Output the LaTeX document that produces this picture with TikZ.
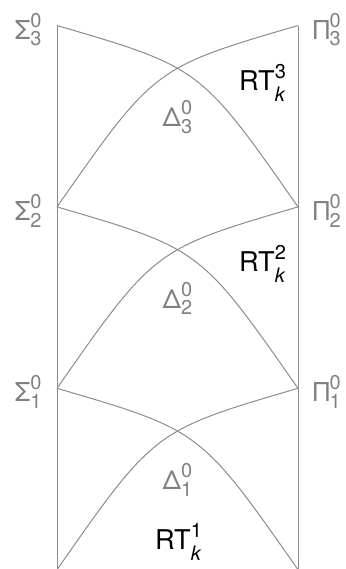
\documentclass[tikz,border=0pt]{standalone}
\usepackage{fontspec}
\setmainfont{TeX Gyre Heros}
\usetikzlibrary{positioning}

% base letter with a superscript and a subscript stacked on the left
\newcommand{\supsub}[4][3.4pt]{#2\rlap{\raisebox{6pt}{\fontsize{10}{12}\selectfont #3}}\raisebox{-#1}{\fontsize{10}{12}\selectfont #4}}

\begin{document}
\begin{tikzpicture}[
      x=0.5pt, y=-0.5pt,
      line/.style={draw=black!45, line width=0.5pt},
      lab/.style={text=black!50, font=\fontsize{13}{15}\selectfont, inner sep=0pt},
      rt/.style={text=black, font=\fontsize{13.6}{16}\selectfont, inner sep=0pt}
    ]
    \useasboundingbox (0,0) rectangle (345,569);
    % levels
    \foreach \n/\y in {3/25.5, 2/206.9, 1/388.3, 0/569.7} {
      \coordinate (S\n) at (57,\y);
      \coordinate (P\n) at (298,\y);
    }
    \draw[line] (S3) -- (S0);
    \draw[line] (P3) -- (P0);
    \foreach \n/\m in {3/2, 2/1, 1/0} {
      \draw[line] (S\n) .. controls +(143.6,42) and +(-97.4,-139.4) .. (P\m);
      \draw[line] (P\n) .. controls +(-143.6,42) and +(97.4,-139.4) .. (S\m);
    }
    % labels
    \foreach \n/\y in {3/25.5, 2/206.9, 1/388.3} {
      \node[lab, left=7.5pt of S\n, yshift=-2pt] (sig\n) {\supsub{Σ}{0}{\n}};
      \node[lab, right=7.5pt of P\n, yshift=-2pt] (pi\n) {\supsub{Π}{0}{\n}};
      \node[lab] (del\n) at (177.5,\y+91.5) {\supsub{Δ}{0}{\n}};
    }
    \node[rt] (rt3) at (262,83) {\supsub[5.5pt]{RT}{3}{\itshape k}};
    \node[rt] (rt2) at (262,264.4) {\supsub[5.5pt]{RT}{2}{\itshape k}};
    \node[rt] (rt1) at (178,542) {\supsub[5.5pt]{RT}{1}{\itshape k}};
\end{tikzpicture}
\end{document}
